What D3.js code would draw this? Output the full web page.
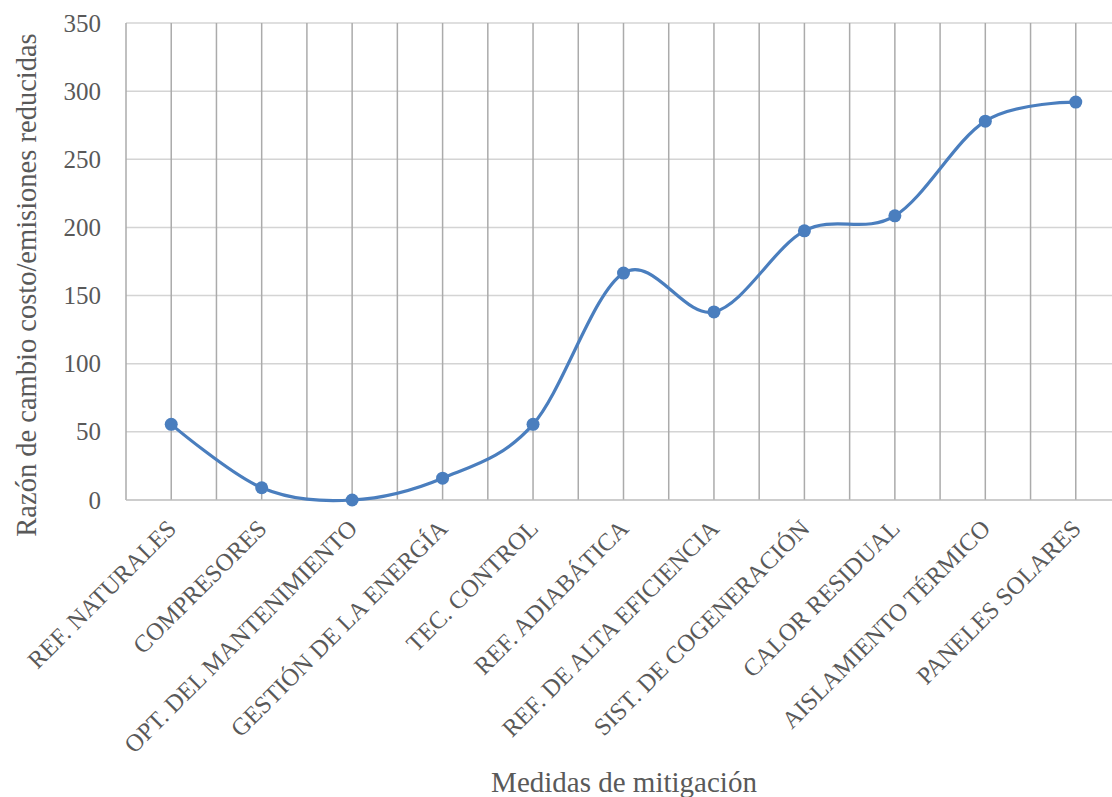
<!DOCTYPE html>
<html>
<head>
<meta charset="utf-8">
<script src="https://cdn.jsdelivr.net/npm/d3@7"></script>
<style>
  html, body { margin: 0; padding: 0; background: #ffffff; }
  svg { display: block; }
  text { font-family: "Liberation Serif", "Times New Roman", "Liberation Sans", sans-serif; fill: #595959; }
</style>
</head>
<body>
<svg id="chart" width="1112" height="797"></svg>
<script>
// Mitigation measures and their cost / reduced-emissions ratio
const categories = [
  "REF. NATURALES",
  "COMPRESORES",
  "OPT. DEL MANTENIMIENTO",
  "GESTIÓN DE LA ENERGÍA",
  "TEC. CONTROL",
  "REF. ADIABÁTICA",
  "REF. DE ALTA EFICIENCIA",
  "SIST. DE COGENERACIÓN",
  "CALOR RESIDUAL",
  "AISLAMIENTO TÉRMICO",
  "PANELES SOLARES"
];
const ratios = [55.5, 9, 0, 16, 55.5, 166.5, 138, 197.5, 208.5, 278, 292];
const yTicks = [0, 50, 100, 150, 200, 250, 300, 350];

const yTitle = "Razón de cambio costo/emisiones reducidas";
const xTitle = "Medidas de mitigación";

const FONT = '"Liberation Serif", "Times New Roman", "Liberation Sans", sans-serif';

const svg = d3.select("#chart");
const W = 1112, H = 797;
const plot = { left: 126, right: 1121, top: 23, bottom: 500 };

svg.append("rect").attr("width", W).attr("height", H).attr("fill", "#ffffff");

const x = d3.scalePoint().domain(categories).range([plot.left, plot.right]).padding(0.5);
const band = d3.scaleBand().domain(categories).range([plot.left, plot.right]).paddingInner(0).paddingOuter(0);
const y = d3.scaleLinear().domain([0, 350]).range([plot.bottom, plot.top]);

// horizontal gridlines
svg.append("g")
  .selectAll("line")
  .data(yTicks.filter(v => v > 0))
  .join("line")
  .attr("x1", plot.left).attr("x2", plot.right)
  .attr("y1", d => y(d)).attr("y2", d => y(d))
  .attr("stroke", "#d4d4d4").attr("stroke-width", 1.5);

// vertical gridlines at category boundaries and centres
const vLines = [];
categories.forEach(c => { vLines.push(band(c)); vLines.push(x(c)); });
vLines.push(band(categories[categories.length - 1]) + band.bandwidth());
svg.append("g")
  .selectAll("line")
  .data(vLines)
  .join("line")
  .attr("x1", d => d).attr("x2", d => d)
  .attr("y1", plot.top).attr("y2", plot.bottom)
  .attr("stroke", "#ababab").attr("stroke-width", 1.5);

// category axis baseline
svg.append("line")
  .attr("x1", plot.left).attr("x2", plot.right)
  .attr("y1", y(0)).attr("y2", y(0))
  .attr("stroke", "#bdbdbd").attr("stroke-width", 1.5);

// value axis labels
const yAxis = d3.axisLeft(y).tickValues(yTicks).tickSize(0).tickPadding(25);
const gy = svg.append("g").attr("transform", `translate(${plot.left},0)`).call(yAxis);
gy.attr("font-family", null);
gy.select(".domain").remove();
gy.selectAll("text")
  .style("font-family", FONT)
  .style("font-size", "25px").attr("fill", "#595959");

// category labels, rotated
const xAxis = d3.axisBottom(x).tickSize(0).tickPadding(0);
const gx = svg.append("g").attr("transform", `translate(0,${plot.bottom})`).call(xAxis);
gx.attr("font-family", null);
gx.select(".domain").remove();
gx.selectAll("text")
  .style("font-family", FONT)
  .style("font-size", "24.5px").attr("fill", "#595959")
  .attr("text-anchor", "end")
  .attr("dy", null).attr("y", null)
  .attr("transform", "translate(6,30) rotate(-45)");

// smoothed series line
const line = d3.line()
  .x((d, i) => x(categories[i]))
  .y(d => y(d))
  .curve(d3.curveCardinal.tension(0));
svg.append("path")
  .datum(ratios)
  .attr("d", line)
  .attr("fill", "none")
  .attr("stroke", "#4a7ebe")
  .attr("stroke-width", 3.2);

// point markers
svg.append("g")
  .selectAll("circle")
  .data(ratios)
  .join("circle")
  .attr("cx", (d, i) => x(categories[i]))
  .attr("cy", d => y(d))
  .attr("r", 6.5)
  .attr("fill", "#4a7ebe");

// axis titles
svg.append("text")
  .attr("transform", `translate(36,${285}) rotate(-90)`)
  .attr("text-anchor", "middle")
  .style("font-family", FONT)
  .style("font-size", "28.5px")
  .text(yTitle);

svg.append("text")
  .attr("x", 624).attr("y", 792)
  .attr("text-anchor", "middle")
  .style("font-family", FONT)
  .style("font-size", "29px")
  .text(xTitle);
</script>
</body>
</html>
